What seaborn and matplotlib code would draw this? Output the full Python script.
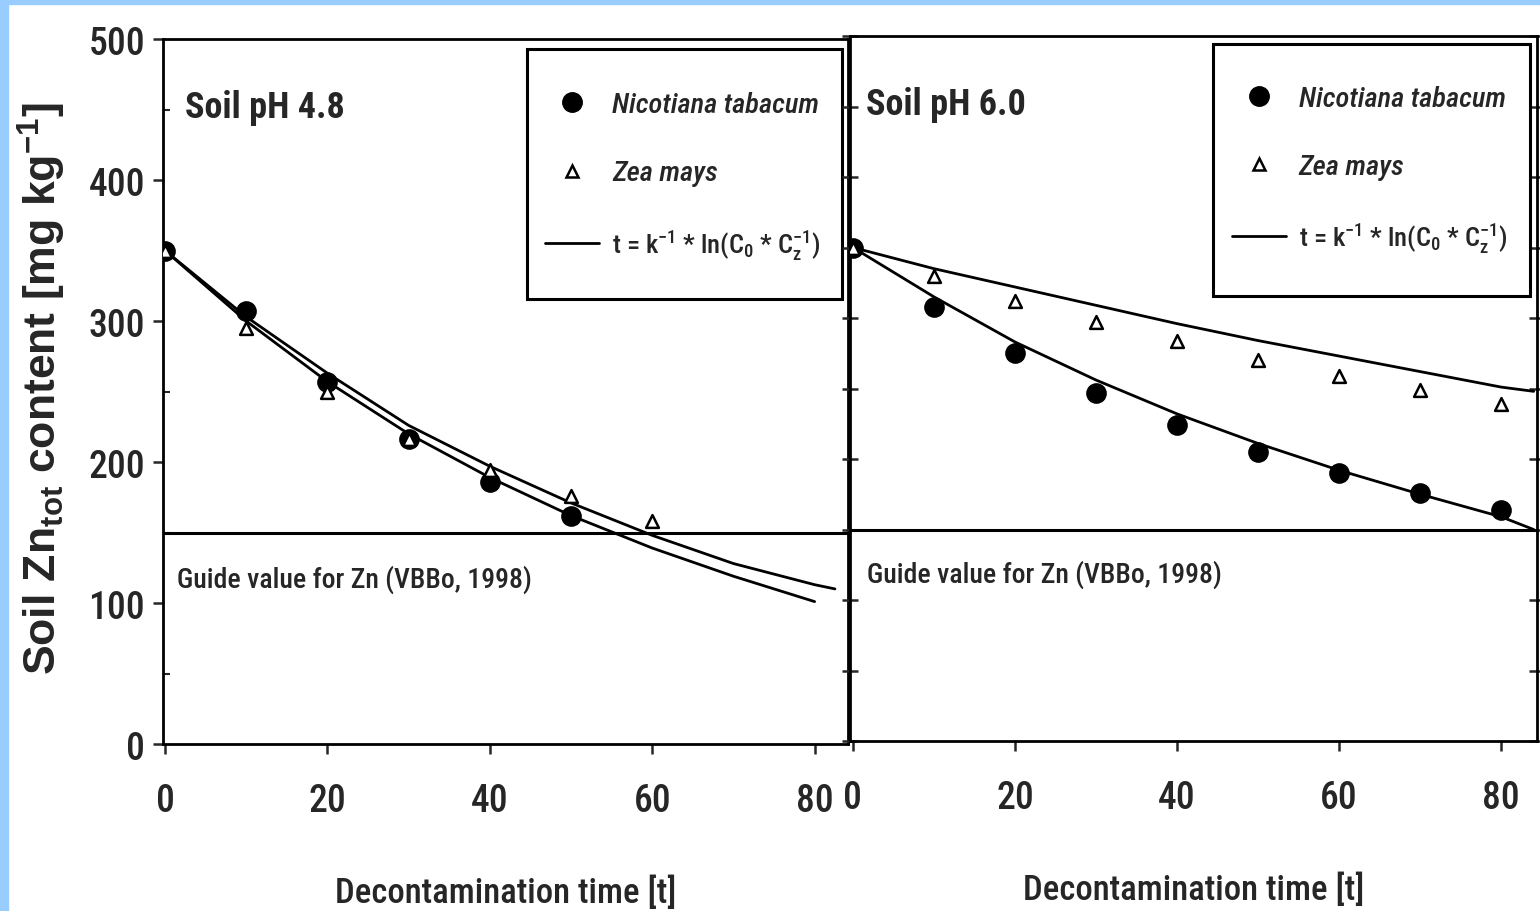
import numpy as np
import pandas as pd
import matplotlib
matplotlib.use('Agg')
import matplotlib.pyplot as plt
import seaborn as sns
from matplotlib.lines import Line2D
from matplotlib.patches import Rectangle
from matplotlib.ticker import MultipleLocator

sns.set_theme(style='ticks')
plt.rcParams['font.family'] = ['Roboto Condensed', 'Liberation Sans', 'DejaVu Sans']
plt.rcParams['font.weight'] = 500
plt.rcParams['mathtext.fontset'] = 'custom'
plt.rcParams['mathtext.rm'] = 'Roboto Condensed'
plt.rcParams['mathtext.default'] = 'regular'
plt.rcParams['axes.edgecolor'] = 'black'

# soil pH 4.8 - measured values
ph48_nico_t = [0, 10, 20, 30, 40, 50]
ph48_nico = [350, 307, 257, 216, 186, 162]
ph48_zea_t = [0, 10, 20, 30, 40, 50, 60]
ph48_zea = [350, 295, 250, 216, 194, 176, 158]
# soil pH 4.8 - fitted curves
ph48_fit_nico_t = [0, 10, 20, 30, 40, 50, 60, 70, 80]
ph48_fit_nico = [350, 300, 257, 220, 189, 162, 139, 119, 101]
ph48_fit_zea_t = [0, 10, 20, 30, 40, 50, 60, 70, 80, 82.5]
ph48_fit_zea = [350, 303, 263, 226, 197, 171, 148, 128, 113, 110]

# soil pH 6.0 - measured values
ph60_nico_t = [0, 10, 20, 30, 40, 50, 60, 70, 80]
ph60_nico = [350, 308, 275, 247, 224, 205, 190, 176, 164]
ph60_zea_t = [0, 10, 20, 30, 40, 50, 60, 70, 80]
ph60_zea = [350, 330, 312, 297, 284, 270, 259, 249, 239]
# soil pH 6.0 - fitted curves
ph60_fit_nico_t = [0, 10, 20, 30, 40, 50, 60, 70, 80, 84]
ph60_fit_nico = [350, 315, 283, 256, 232, 211, 192, 175, 159, 150]
ph60_fit_zea_t = [0, 10, 20, 30, 40, 50, 60, 70, 80, 84]
ph60_fit_zea = [350, 335, 322, 309, 296, 284, 273, 262, 251, 248]

guide_value = 150
x_ticks = [0, 20, 40, 60, 80]
legend_labels = ['Nicotiana tabacum', 'Zea mays',
                 r't = k$^{-1}$ * ln(C$_{0}$ * C$_{z}^{-1}$)']

fig = plt.figure(figsize=(15.4, 9.12), dpi=100)
fig.patch.set_facecolor('white')
fig.patches.append(Rectangle((0, 0), 8 / 1540, 1, transform=fig.transFigure,
                             color='#99ccff', zorder=0))
fig.patches.append(Rectangle((0, 1 - 5 / 912), 1, 5 / 912, transform=fig.transFigure,
                             color='#99ccff', zorder=0))

ax1 = fig.add_axes([0.1058, 0.1831, 0.4448, 0.7730])
ax2 = fig.add_axes([0.5519, 0.1864, 0.4461, 0.7730])


def panel(ax, nico_t, nico, zea_t, zea, fn_t, fn, fz_t, fz, title, xlim,
          frame_box, leg_anchor, title_pos, guide_pos):
    sns.lineplot(x=fn_t, y=fn, ax=ax, color='black', lw=2)
    sns.lineplot(x=fz_t, y=fz, ax=ax, color='black', lw=2)
    ax.axhline(guide_value, color='black', lw=2.2)
    sns.scatterplot(x=nico_t, y=nico, ax=ax, marker='o', s=190, color='black',
                    edgecolor='black', zorder=3)
    sns.scatterplot(x=zea_t, y=zea, ax=ax, marker='^', s=85, color='white',
                    edgecolor='black', linewidth=1.8, zorder=4)
    ax.set_xlim(*xlim)
    ax.set_ylim(0, 500)
    ax.set_xticks(x_ticks)
    for s in ax.spines.values():
        s.set_linewidth(2)
    ax.text(title_pos[0], title_pos[1], title, transform=ax.transAxes,
            fontsize=26, fontweight='bold', va='center', ha='left')
    ax.text(guide_pos[0], guide_pos[1], 'Guide value for Zn (VBBo, 1998)',
            transform=ax.transAxes, fontsize=20, va='center', ha='left')
    ax.set_xlabel('Decontamination time [t]', fontsize=25, fontweight=500, labelpad=40)

    handles = [Line2D([], [], marker='o', ls='none', color='black', markersize=14),
               Line2D([], [], marker='^', ls='none', markerfacecolor='white',
                      markeredgecolor='black', markersize=9, mew=1.8),
               Line2D([], [], color='black', lw=2)]
    leg = ax.legend(handles, legend_labels, loc='upper left', bbox_to_anchor=leg_anchor,
                    frameon=False, fontsize=20.5, handlelength=1.9, handletextpad=0.45,
                    labelspacing=1.45, borderpad=0, borderaxespad=0)
    texts = leg.get_texts()
    texts[0].set_style('italic')
    texts[1].set_style('italic')
    texts[2].set_fontsize(19)
    ax.add_patch(Rectangle((frame_box[0], frame_box[1]), frame_box[2] - frame_box[0],
                           frame_box[3] - frame_box[1], transform=ax.transAxes,
                           fill=False, edgecolor='black', lw=2.2, clip_on=False, zorder=6))


panel(ax1, ph48_nico_t, ph48_nico, ph48_zea_t, ph48_zea,
      ph48_fit_nico_t, ph48_fit_nico, ph48_fit_zea_t, ph48_fit_zea,
      'Soil pH 4.8', (-0.25, 84.1), (0.531, 0.631, 0.991, 0.986), (0.558, 0.926),
      (0.032, 0.903), (0.02, 0.234))
panel(ax2, ph60_nico_t, ph60_nico, ph60_zea_t, ph60_zea,
      ph60_fit_nico_t, ph60_fit_nico, ph60_fit_zea_t, ph60_fit_zea,
      'Soil pH 6.0', (-0.37, 84.4), (0.528, 0.631, 0.990, 0.989), (0.556, 0.931),
      (0.023, 0.904), (0.025, 0.237))

# left panel axis
ax1.set_yticks(range(0, 501, 100))
ax1.yaxis.set_minor_locator(MultipleLocator(50))
ax1.tick_params(axis='both', which='major', direction='out', length=7, width=1.8, labelsize=27)
ax1.tick_params(axis='x', pad=20)
ax1.tick_params(axis='y', pad=6)
ax1.tick_params(axis='y', which='minor', direction='in', length=5, width=1.5, left=True)
ax1.set_ylabel(r'Soil Zn$_{tot}$ content [mg kg$^{-1}$]', fontsize=32, fontweight='bold',
               family=['Liberation Sans', 'DejaVu Sans'])
ax1.yaxis.set_label_coords(-0.138, 0.506)

# right panel axis
ax2.set_yticks(range(0, 501, 50))
ax2.tick_params(axis='x', direction='out', length=7, width=1.8, labelsize=27, pad=20)
ax2.tick_params(axis='y', direction='inout', length=12, width=1.8, left=True, right=True,
                labelleft=False)

fig.savefig('out.png', dpi=100)
